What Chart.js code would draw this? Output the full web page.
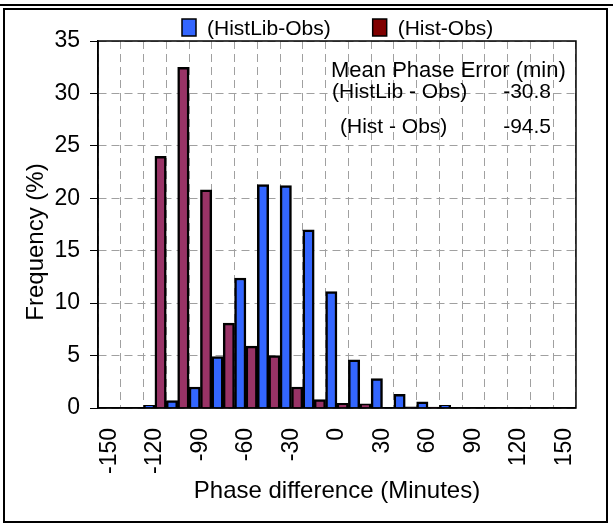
<!DOCTYPE html>
<html lang="en">
<head>
<meta charset="UTF-8" />
<title>Phase difference histogram</title>
<script src="https://cdn.jsdelivr.net/npm/chart.js"></script>
<style>
    body {
        margin: 0;
        background: #ffffff;
    }
    .topline {
        position: absolute;
        left: 0;
        top: 4px;
        width: 613px;
        height: 2px;
        background: #000;
    }
    .frame {
        position: absolute;
        left: 3px;
        top: 8px;
        width: 605px;
        height: 515px;
        box-sizing: border-box;
        border: 2px solid #000;
    }
    #wrap {
        position: absolute;
        left: 0;
        top: 0;
        width: 613px;
        height: 524px;
    }
</style>
</head>
<body>
<div class="topline"></div>
<div class="frame"></div>
<div id="wrap"><canvas id="chart" width="613" height="524"></canvas></div>

<script>
// bins (minutes), one bar pair per bin
const categories = [-150, -135, -120, -105, -90, -75, -60, -45, -30, -15, 0, 15, 30, 45, 60, 75, 90, 105, 120, 135, 150];
const histLibObs = [0, 0, 0.25, 0.7, 2.0, 4.9, 12.4, 21.3, 21.2, 17.0, 11.1, 4.6, 2.8, 1.3, 0.6, 0.25, 0, 0, 0, 0, 0];
const histObs = [0, 0, 24.0, 32.5, 20.8, 8.1, 5.9, 5.0, 2.0, 0.8, 0.45, 0.4, 0, 0.1, 0.08, 0, 0, 0, 0, 0, 0];
const seriesNames = ['(HistLib-Obs)', '(Hist-Obs)'];
const barColors = ['#3366FF', '#993366'];
const legendColors = ['#3366FF', '#800000'];

const meanTitle = 'Mean Phase Error (min)';
const meanNames = ['(HistLib - Obs)', '(Hist - Obs)'];
const meanValues = ['-30.8', '-94.5'];

const FONT = "'Liberation Sans', Arial, sans-serif";

const frameBox = {
    id: 'frameBox',
    afterDatasetsDraw(chart) {
        const {ctx, chartArea: a} = chart;
        ctx.save();
        ctx.strokeStyle = '#000';
        ctx.lineWidth = 1.5;
        ctx.strokeRect(a.left, a.top, a.right - a.left, a.bottom - a.top);
        ctx.restore();
    }
};

const extras = {
    id: 'extras',
    afterDraw(chart) {
        const ctx = chart.ctx;
        ctx.save();
        ctx.fillStyle = '#000';

        // y axis title
        ctx.font = '24px ' + FONT;
        ctx.textAlign = 'center';
        ctx.textBaseline = 'middle';
        ctx.translate(36, 242);
        ctx.rotate(-Math.PI / 2);
        ctx.fillText('Frequency (%)', 0, 0);
        ctx.setTransform(1, 0, 0, 1, 0, 0);

        // legend
        ctx.font = '21px ' + FONT;
        ctx.textAlign = 'left';
        let x = 182;
        chart.data.datasets.forEach((ds, i) => {
            ctx.fillStyle = legendColors[i];
            ctx.fillRect(x, 19, 14, 17);
            ctx.strokeStyle = '#000';
            ctx.lineWidth = 1.5;
            ctx.strokeRect(x, 19, 14, 17);
            ctx.fillStyle = '#000';
            ctx.fillText(ds.label, x + 25, 29);
            x += 25 + ctx.measureText(ds.label).width + 42;
        });

        // mean phase error note
        ctx.font = '22px ' + FONT;
        ctx.textBaseline = 'alphabetic';
        ctx.fillText(meanTitle, 331, 77);
        ctx.font = '21px ' + FONT;
        ctx.fillText(meanNames[0], 332, 98);
        ctx.fillText(meanNames[1], 340, 133);
        ctx.textAlign = 'right';
        ctx.fillText(meanValues[0], 551, 98);
        ctx.fillText(meanValues[1], 551, 133);
        ctx.restore();
    }
};

new Chart(document.getElementById('chart'), {
    type: 'bar',
    data: {
        labels: categories,
        datasets: [
            {
                label: seriesNames[0],
                data: histLibObs,
                backgroundColor: barColors[0],
                borderColor: '#000',
                borderWidth: 2.5,
                categoryPercentage: 1,
                barPercentage: 1
            },
            {
                label: seriesNames[1],
                data: histObs,
                backgroundColor: barColors[1],
                borderColor: '#000',
                borderWidth: 2.5,
                categoryPercentage: 1,
                barPercentage: 1
            }
        ]
    },
    options: {
        responsive: false,
        animation: false,
        layout: {padding: {top: 41, left: 0, right: 34, bottom: 0}},
        plugins: {
            legend: {display: false},
            tooltip: {enabled: false}
        },
        scales: {
            x: {
                afterFit: s => { s.height = 116; },
                grid: {color: '#a0a0a0', lineWidth: 1, drawTicks: false, offset: true},
                border: {color: '#000', width: 1.5, dash: [8, 5]},
                ticks: {
                    autoSkip: false,
                    minRotation: 90,
                    maxRotation: 90,
                    padding: 20,
                    color: '#000',
                    font: {family: FONT, size: 23},
                    callback: (v, i) => (categories[i] % 30 === 0 ? String(categories[i]) : '')
                },
                title: {
                    display: true,
                    text: 'Phase difference (Minutes)',
                    color: '#000',
                    font: {family: FONT, size: 24},
                    padding: {top: 0, bottom: 18}
                }
            },
            y: {
                min: 0,
                max: 35,
                afterFit: s => { s.width = 98; },
                grid: {color: '#a0a0a0', lineWidth: 1, tickLength: 8, tickColor: '#000', tickBorderDash: []},
                border: {color: '#000', width: 1.5, dash: [8, 5]},
                ticks: {
                    stepSize: 5,
                    padding: 10,
                    color: '#000',
                    font: {family: FONT, size: 23}
                }
            }
        }
    },
    plugins: [frameBox, extras]
});
</script>
</body>
</html>
